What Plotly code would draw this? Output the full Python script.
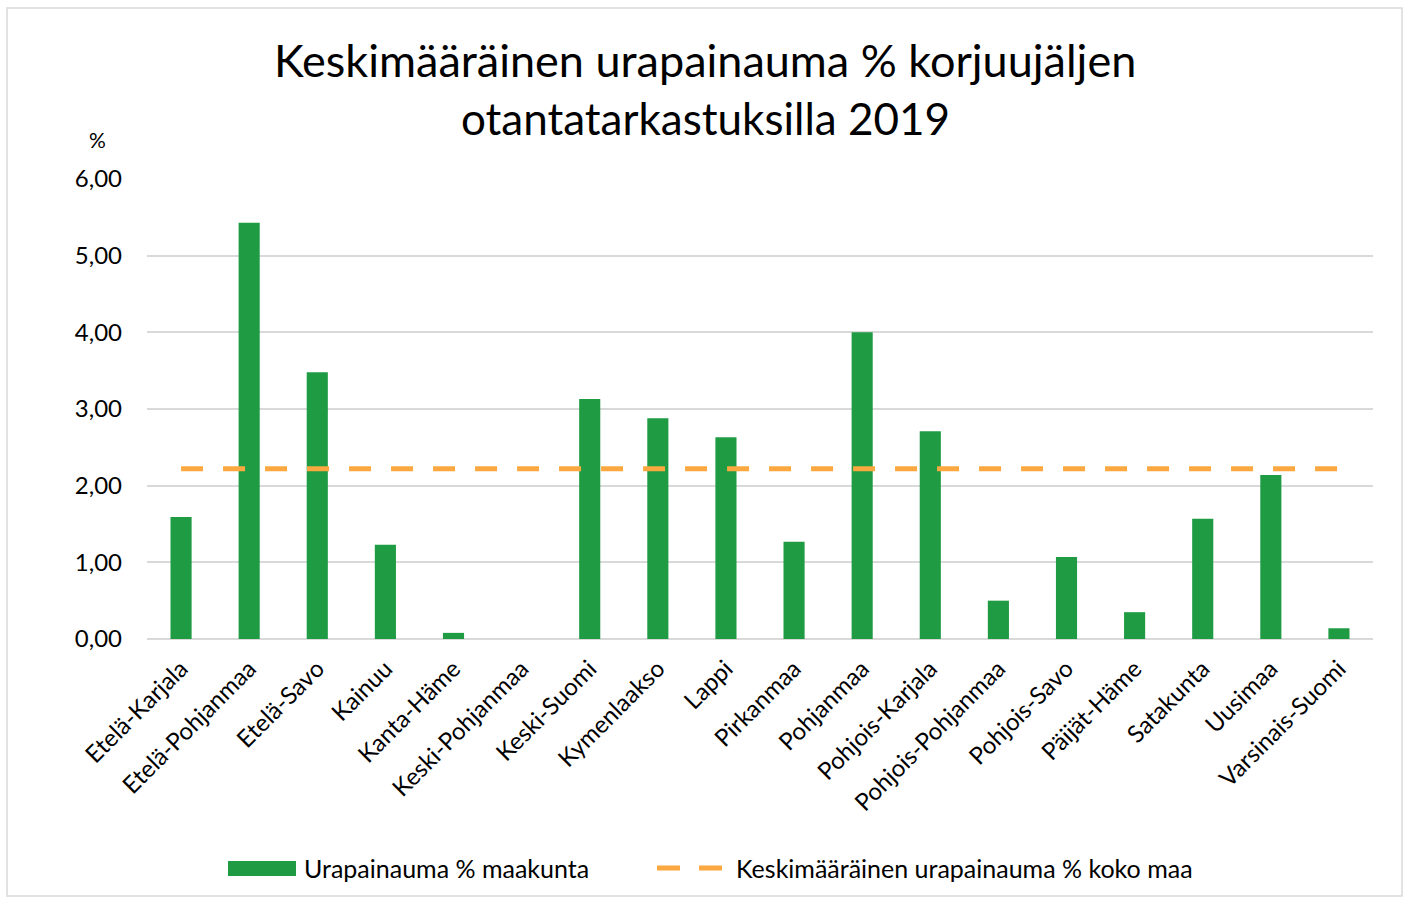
import plotly.graph_objects as go

categories = ["Etelä-Karjala", "Etelä-Pohjanmaa", "Etelä-Savo", "Kainuu", "Kanta-Häme",
              "Keski-Pohjanmaa", "Keski-Suomi", "Kymenlaakso", "Lappi", "Pirkanmaa",
              "Pohjanmaa", "Pohjois-Karjala", "Pohjois-Pohjanmaa", "Pohjois-Savo",
              "Päijät-Häme", "Satakunta", "Uusimaa", "Varsinais-Suomi"]
maakunta = [1.59, 5.43, 3.48, 1.23, 0.08, 0.0, 3.13, 2.88, 2.63, 1.27,
            4.00, 2.71, 0.50, 1.07, 0.35, 1.57, 2.14, 0.14]
koko_maa = [2.22] * len(categories)
y_ticks = [0, 1, 2, 3, 4, 5, 6]
y_tick_labels = ["0,00", "1,00", "2,00", "3,00", "4,00", "5,00", "6,00"]
series_names = ["Urapainauma % maakunta", "Keskimääräinen urapainauma % koko maa"]

FONT = "Lato"
GREEN = "#1F9B43"
ORANGE = "#FAA83F"
W, H = 1409, 899
ml, mr, mt, mb = 147, 36, 179, 260
pw, ph = W - ml - mr, H - mt - mb


def px_x(x):
    return (x - ml) / pw


def px_y(y):
    return (H - mb - y) / ph


fig = go.Figure()
fig.add_trace(go.Bar(
    x=categories, y=maakunta, name=series_names[0],
    marker=dict(color=GREEN, line=dict(width=0)),
    showlegend=False,
))
fig.add_trace(go.Scatter(
    x=categories, y=koko_maa, mode="lines", name=series_names[1],
    line=dict(color=ORANGE, width=5, dash="22px,20px"),
    showlegend=False,
))

annotations = [
    dict(text="Keskimääräinen urapainauma % korjuujäljen", x=px_x(705), xref="paper",
         y=px_y(60), yref="paper", xanchor="center", yanchor="middle", showarrow=False,
         font=dict(size=45, family=FONT)),
    dict(text="otantatarkastuksilla 2019", x=px_x(705), xref="paper",
         y=px_y(118), yref="paper", xanchor="center", yanchor="middle", showarrow=False,
         font=dict(size=44, family=FONT)),
    dict(text="%", xref="paper", yref="paper", x=px_x(97), y=px_y(140),
         xanchor="center", yanchor="middle", showarrow=False, font=dict(size=21, family=FONT)),
    dict(text=series_names[0], xref="paper", yref="paper", x=px_x(302), y=px_y(868),
         xanchor="left", yanchor="middle", showarrow=False, font=dict(size=25, family=FONT)),
    dict(text=series_names[1], xref="paper", yref="paper", x=px_x(734), y=px_y(868),
         xanchor="left", yanchor="middle", showarrow=False, font=dict(size=25, family=FONT)),
]

shapes = [
    dict(type="rect", xref="paper", yref="paper",
         x0=px_x(7), x1=px_x(1402), y0=px_y(896), y1=px_y(8),
         line=dict(color="#D9D9D9", width=1.5), fillcolor="rgba(0,0,0,0)", layer="below"),
    dict(type="rect", xref="paper", yref="paper",
         x0=px_x(228), x1=px_x(296), y0=px_y(876), y1=px_y(861),
         line=dict(width=0), fillcolor=GREEN),
    dict(type="line", xref="paper", yref="paper",
         x0=px_x(657), x1=px_x(723), y0=px_y(868), y1=px_y(868),
         line=dict(color=ORANGE, width=5, dash="23px,19px")),
]

fig.update_layout(
    width=W, height=H,
    margin=dict(l=ml, r=mr, t=mt, b=mb, autoexpand=False),
    paper_bgcolor="white", plot_bgcolor="white",
    font=dict(family=FONT, color="#000000", size=21),
    bargap=0.69,
    showlegend=False,
    xaxis=dict(tickangle=-45, showgrid=False, showline=False, ticks="",
               ticklabelstandoff=10,
               tickfont=dict(size=24, family=FONT), automargin=False),
    yaxis=dict(range=[0, 6], tickvals=y_ticks, ticktext=y_tick_labels,
               showgrid=True, gridcolor="#D9D9D9", gridwidth=1.5,
               zeroline=True, zerolinecolor="#D9D9D9", zerolinewidth=1.5,
               showline=False, ticks="", ticklabelstandoff=24,
               tickfont=dict(size=24, family=FONT), automargin=False),
    annotations=annotations,
    shapes=shapes,
)

fig.write_html("out.html", config={"displayModeBar": False},
               post_script="document.body.style.margin='0';")
